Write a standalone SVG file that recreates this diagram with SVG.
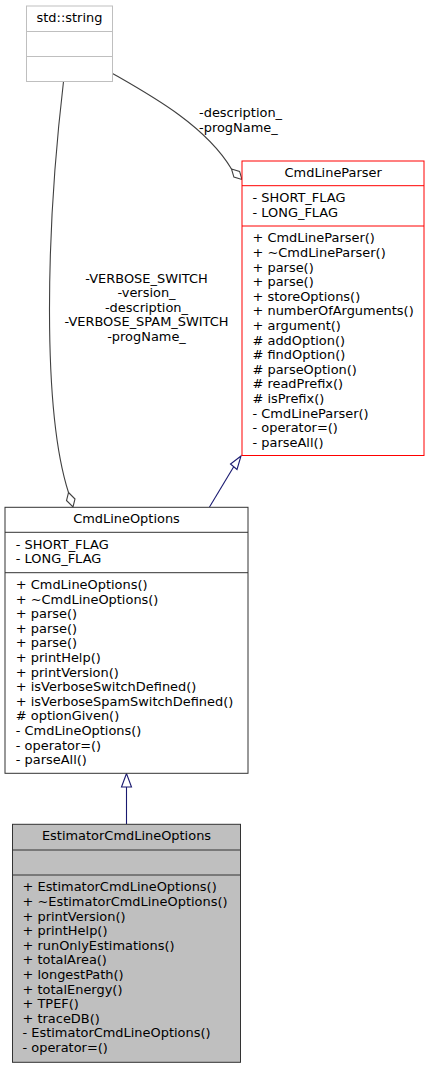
<svg xmlns="http://www.w3.org/2000/svg" width="430" height="1068" viewBox="0 0 430 1068">
<style>
text{font-family:"DejaVu Sans","Liberation Sans",sans-serif;font-size:12.95px;fill:#000}
.c{text-anchor:middle}
.box{stroke-width:1}
.agg{fill:none;stroke:#404040;stroke-width:1.1}
.dia{fill:#fff;stroke:#404040;stroke-width:1.1}
.inh{fill:none;stroke:#191970;stroke-width:1.1}
.tri{fill:#fff;stroke:#191970;stroke-width:1.1}
</style>
<rect width="430" height="1068" fill="#fff"/>
<g id="connectors">
<path class="agg" d="M63.5,81.5 C46,230 42,410 68.5,492.5"/>
<polygon class="dia" points="68.5,492.5 75,499 73,507 66.5,500.5"/>
<path class="agg" d="M112.5,73.5 C150,95 205,125 231.5,169"/>
<polygon class="dia" points="231.5,169 239.6,171.4 242,179.5 233.9,177.1"/>
<text x="199" y="117.3">-description_</text>
<text x="199" y="131.9">-progName_</text>
<text class="c" x="146.5" y="282.5">-VERBOSE_SWITCH</text>
<text class="c" x="146.5" y="297.1">-version_</text>
<text class="c" x="146.5" y="311.7">-description_</text>
<text class="c" x="146.5" y="326.3">-VERBOSE_SPAM_SWITCH</text>
<text class="c" x="146.5" y="340.9">-progName_</text>
<path class="inh" d="M209.5,507 L233.7,466.7"/>
<polygon class="tri" points="241,456 230.5,464 237,469.5"/>
<path class="inh" d="M126.5,824 L126.5,787"/>
<polygon class="tri" points="126.5,773.5 121.5,787 131.5,787"/>
</g>
<g id="std_string">
<rect class="box" x="26.5" y="6" width="86" height="75.5" fill="#fff" stroke="#bfbfbf"/>
<path d="M26.5,31.5 H112.5 M26.5,56.5 H112.5" stroke="#bfbfbf"/>
<text class="c" x="69.5" y="21.7">std::string</text>
</g>
<g id="CmdLineParser">
<rect class="box" x="242" y="161" width="182" height="294.5" fill="#fff" stroke="#f00"/>
<path d="M242,185.7 H424 M242,226 H424" stroke="#f00"/>
<text class="c" x="333.2" y="176.7">CmdLineParser</text>
<text x="252.5" y="202">- SHORT_FLAG<tspan x="252.5" dy="14.6">- LONG_FLAG</tspan></text>
<text x="252.5" y="242.3">+ CmdLineParser()<tspan x="252.5" dy="14.6">+ ~CmdLineParser()</tspan><tspan x="252.5" dy="14.6">+ parse()</tspan><tspan x="252.5" dy="14.6">+ parse()</tspan><tspan x="252.5" dy="14.6">+ storeOptions()</tspan><tspan x="252.5" dy="14.6">+ numberOfArguments()</tspan><tspan x="252.5" dy="14.6">+ argument()</tspan><tspan x="252.5" dy="14.6"># addOption()</tspan><tspan x="252.5" dy="14.6"># findOption()</tspan><tspan x="252.5" dy="14.6"># parseOption()</tspan><tspan x="252.5" dy="14.6"># readPrefix()</tspan><tspan x="252.5" dy="14.6"># isPrefix()</tspan><tspan x="252.5" dy="14.6">- CmdLineParser()</tspan><tspan x="252.5" dy="14.6">- operator=()</tspan><tspan x="252.5" dy="14.6">- parseAll()</tspan></text>
</g>
<g id="CmdLineOptions">
<rect class="box" x="5" y="507.3" width="243" height="266" fill="#fff" stroke="#333"/>
<path d="M5,532.3 H248 M5,572.7 H248" stroke="#333"/>
<text class="c" x="126.5" y="523">CmdLineOptions</text>
<text x="15.8" y="548.6">- SHORT_FLAG<tspan x="15.8" dy="14.6">- LONG_FLAG</tspan></text>
<text x="15.8" y="589">+ CmdLineOptions()<tspan x="15.8" dy="14.6">+ ~CmdLineOptions()</tspan><tspan x="15.8" dy="14.6">+ parse()</tspan><tspan x="15.8" dy="14.6">+ parse()</tspan><tspan x="15.8" dy="14.6">+ parse()</tspan><tspan x="15.8" dy="14.6">+ printHelp()</tspan><tspan x="15.8" dy="14.6">+ printVersion()</tspan><tspan x="15.8" dy="14.6">+ isVerboseSwitchDefined()</tspan><tspan x="15.8" dy="14.6">+ isVerboseSpamSwitchDefined()</tspan><tspan x="15.8" dy="14.6"># optionGiven()</tspan><tspan x="15.8" dy="14.6">- CmdLineOptions()</tspan><tspan x="15.8" dy="14.6">- operator=()</tspan><tspan x="15.8" dy="14.6">- parseAll()</tspan></text>
</g>
<g id="EstimatorCmdLineOptions">
<rect class="box" x="12.5" y="824.3" width="228" height="238" fill="#bfbfbf" stroke="#333"/>
<path d="M12.5,850 H240.5 M12.5,875 H240.5" stroke="#333"/>
<text class="c" x="126.5" y="840">EstimatorCmdLineOptions</text>
<text x="22.5" y="891.3">+ EstimatorCmdLineOptions()<tspan x="22.5" dy="14.6">+ ~EstimatorCmdLineOptions()</tspan><tspan x="22.5" dy="14.6">+ printVersion()</tspan><tspan x="22.5" dy="14.6">+ printHelp()</tspan><tspan x="22.5" dy="14.6">+ runOnlyEstimations()</tspan><tspan x="22.5" dy="14.6">+ totalArea()</tspan><tspan x="22.5" dy="14.6">+ longestPath()</tspan><tspan x="22.5" dy="14.6">+ totalEnergy()</tspan><tspan x="22.5" dy="14.6">+ TPEF()</tspan><tspan x="22.5" dy="14.6">+ traceDB()</tspan><tspan x="22.5" dy="14.6">- EstimatorCmdLineOptions()</tspan><tspan x="22.5" dy="14.6">- operator=()</tspan></text>
</g>
</svg>
